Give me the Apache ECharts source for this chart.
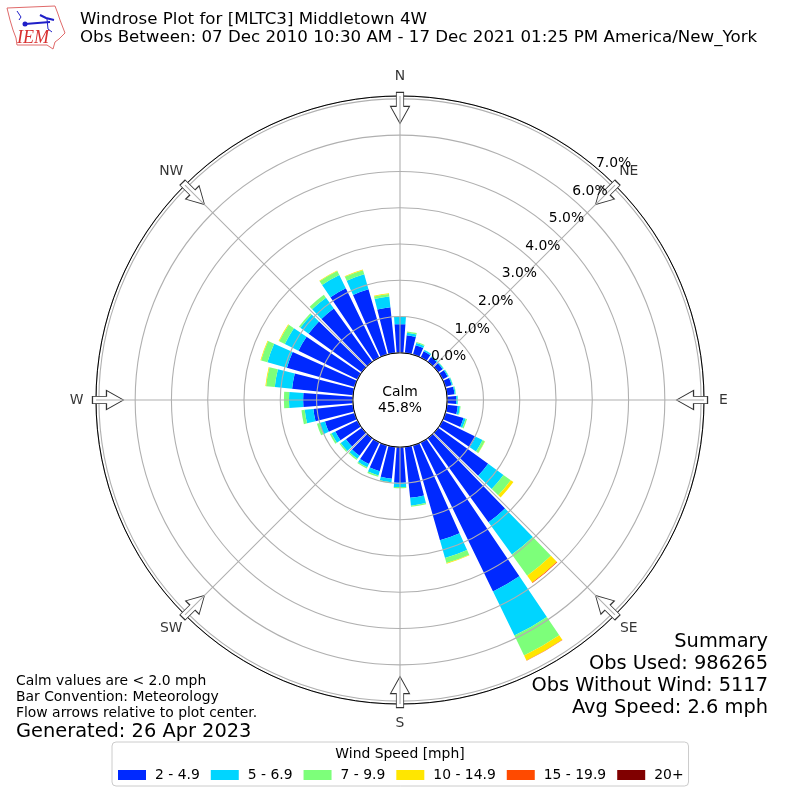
<!DOCTYPE html>
<html>
<head>
<meta charset="utf-8">
<script src="https://cdn.jsdelivr.net/npm/echarts@6/dist/echarts.min.js"></script>
<style>html,body{margin:0;padding:0;background:#fff}#chart{width:800px;height:800px}</style>
</head>
<body>
<div id="chart"></div>
<script>
// direction bins, degrees from north
var directions = [0,10,20,30,40,50,60,70,80,90,100,110,120,130,140,150,160,170,180,190,200,210,220,230,240,250,260,270,280,290,300,310,320,330,340,350];
var speedBins = ['2 - 4.9','5 - 6.9','7 - 9.9','10 - 14.9','15 - 19.9','20+'];
var binColors = ['#0029ff','#00d5ff','#7dff7a','#ffe600','#ff4a00','#800000'];

// percent of obs in each bin
var speed2 = [.79,.49,.27,.19,.16,.15,.16,.18,.21,.25,.30,.52,1.02,1.70,2.86,4.57,2.72,1.41,.98,.88,.74,.66,.60,.54,.68,.85,1.10,1.37,1.69,1.94,1.81,1.81,1.81,2.12,1.87,1.27];
var speed5 = [.20,.07,.06,.04,.03,.03,.03,.03,.03,.04,.06,.06,.21,.52,1.10,1.35,.51,.22,.12,.10,.12,.10,.10,.18,.12,.16,.24,.39,.48,.56,.42,.28,.37,.41,.43,.30];
var speed7 = [.02,.04,.03,.01,.01,.01,.01,.01,.01,.01,.02,.04,.07,.25,.72,.61,.14,.03,.03,.02,.04,.04,.04,.04,.05,.07,.09,.14,.24,.18,.17,.05,.10,.12,.12,.07];
var speed10 = [0,0,0,0,0,0,0,0,0,0,0,0,.01,.09,.23,.15,.02,0,0,0,0,0,0,0,0,0,0,0,.02,.02,.02,0,0,.02,.02,.02];
var speed15 = [0,0,0,0,0,0,0,0,0,0,0,0,0,0,.02,.01,0,0,0,0,0,0,0,0,0,0,0,0,0,0,0,0,0,0,0,0];
var speed20 = [0,0,0,0,0,0,0,0,0,0,0,0,0,0,0,0,0,0,0,0,0,0,0,0,0,0,0,0,0,0,0,0,0,0,0,0];
var binValues = [speed2,speed5,speed7,speed10,speed15,speed20];

var compass = ['N','NE','E','SE','S','SW','W','NW'];
var compassAngles = [0,45,90,135,180,225,270,315];

var titleLines = 'Windrose Plot for [MLTC3] Middletown 4W\nObs Between: 07 Dec 2010 10:30 AM - 17 Dec 2021 01:25 PM America/New_York';
var calmText = 'Calm\n45.8%';
var noteLines = 'Calm values are < 2.0 mph\nBar Convention: Meteorology\nFlow arrows relative to plot center.';
var generated = 'Generated: 26 Apr 2023';
var summaryLines = 'Summary\nObs Used: 986265\nObs Without Wind: 5117\nAvg Speed: 2.6 mph';

var FONT = '"DejaVu Sans"';
var rMax = 7.08;
var ringR = [47.2,304];
var arrowPath = 'path://M-3.5,0 L3.5,0 L3.5,14 L9,14 L0,31 L-9,14 L-3.5,14 Z';

var series = [];
for(var i=0;i<speedBins.length;i++){
	series.push({
		name:speedBins[i],
		type:'bar',
		coordinateSystem:'polar',
		polarIndex:0,
		stack:'wind',
		barWidth:'82%',
		itemStyle:{color:binColors[i]},
		data:binValues[i]
	});
}
// flow arrows, sit on the spoke polar
series.push({
	type:'scatter',
	coordinateSystem:'polar',
	polarIndex:2,
	silent:true,
	z:5,
	symbol:arrowPath,
	symbolSize:[19,31],
	itemStyle:{color:'#fff',borderColor:'#333',borderWidth:1,opacity:1},
	data:compassAngles.map(function(a){
		return {value:[6.75,a],symbolRotate:-a};
	})
});
// compass names, axis labels can't be centred on their point
series.push({
	type:'scatter',
	coordinateSystem:'polar',
	polarIndex:4,
	silent:true,
	z:8,
	symbolSize:1,
	itemStyle:{color:'transparent'},
	label:{show:true,position:'inside',fontFamily:FONT,fontSize:13.9,color:'#000',formatter:'{b}'},
	data:compassAngles.map(function(a,i){
		return {name:compass[i],value:[1,a]};
	})
});

function txt(x,y,text,size,align,lh){
	return {type:'text',x:x,y:y,z:10,style:{text:text,font:size+'px '+FONT,fill:'#000',textAlign:align,textVerticalAlign:'top',lineHeight:lh}};
}

var logoRed = '#e06a6a', logoBlue = '#1f1fc8';
var graphic = [
	txt(80,11,titleLines,16.67,'left',18),
	txt(400,384,calmText,13.9,'center',16),
	txt(16,673,noteLines,13.9,'left',16),
	txt(16,721,generated,19.4,'left',22),
	txt(768,631,summaryLines,19.4,'right',22.1),
	txt(400,747,'Wind Speed [mph]',13.9,'center',15),
	// IEM logo
	{type:'polygon',z:10,shape:{points:[[7,8],[55,6],[58,14],[60,20],[65,33],[59,39],[55,42],[53,49],[47,45],[17,45],[16,38],[13,30],[10,20]]},style:{fill:'#fff',stroke:logoRed,lineWidth:1}},
	{type:'polyline',z:10,shape:{points:[[25,24],[50,22]]},style:{stroke:logoBlue,lineWidth:2,fill:null}},
	{type:'polyline',z:10,shape:{points:[[17,11],[21,17],[19,20]]},style:{stroke:logoBlue,lineWidth:1,fill:null}},
	{type:'polyline',z:10,shape:{points:[[40,15],[46,18],[54,20]]},style:{stroke:logoBlue,lineWidth:2,fill:null}},
	{type:'polyline',z:10,shape:{points:[[47,19],[48,29],[52,32]]},style:{stroke:logoBlue,lineWidth:1,fill:null}},
	{type:'circle',z:10,shape:{cx:25,cy:24,r:2.5},style:{fill:logoBlue}},
	{type:'text',x:17,y:29,z:10,style:{text:'IEM',font:'italic 18px "Liberation Serif"',fill:'#d83030',textAlign:'left',textVerticalAlign:'top'}}
];

var option = {
	animation:false,
	backgroundColor:'#fff',
	polar:[
		{center:[400,400],radius:ringR},	// bars
		{center:[400,400],radius:ringR},	// rings + black circles
		{center:[400,400],radius:ringR},	// spokes
		{center:[418,392.5],radius:ringR},	// ring labels, moved off the spoke
		{center:[400,400],radius:[0,323.5]}	// compass names
	],
	angleAxis:[
		{polarIndex:0,type:'category',data:directions,startAngle:95,show:false},
		{polarIndex:1,type:'value',min:0,max:360,startAngle:90,z:4,
			axisLine:{show:true,lineStyle:{color:'#000',width:1}},axisTick:{show:false},axisLabel:{show:false},splitLine:{show:false}},
		{polarIndex:2,type:'value',min:0,max:360,interval:45,startAngle:90,z:6,
			axisLine:{show:false},axisTick:{show:false},axisLabel:{show:false},
			splitLine:{show:true,lineStyle:{color:'#b0b0b0',width:1.1}}},
		{polarIndex:3,type:'value',min:0,max:360,startAngle:49.5,show:false},
		{polarIndex:4,type:'value',min:0,max:360,startAngle:90,show:false}
	],
	radiusAxis:[
		{polarIndex:0,min:0,max:rMax,show:false},
		{polarIndex:1,min:0,max:rMax,interval:1,z:3,axisLine:{show:false},axisTick:{show:false},axisLabel:{show:false},
			splitLine:{show:true,lineStyle:{color:'#b0b0b0',width:1.1}}},
		{polarIndex:2,min:0,max:rMax,show:false},
		{polarIndex:3,min:0,max:rMax,interval:1,z:7,axisLine:{show:false},axisTick:{show:false},splitLine:{show:false},
			axisLabel:{show:true,margin:0,align:'center',verticalAlign:'middle',showMaxLabel:false,fontFamily:FONT,fontSize:13.9,color:'#000',
				formatter:function(v){return v.toFixed(1)+'%'}}},
		{polarIndex:4,min:0,max:1,show:false}
	],
	legend:{
		data:speedBins,
		left:112,top:742,
		icon:'rect',
		itemWidth:28,itemHeight:10,itemGap:11,
		padding:[26,5,4,6],
		borderColor:'#ccc',borderWidth:1,borderRadius:4,
		textStyle:{fontFamily:FONT,fontSize:13.9,color:'#000',padding:[0,0,0,4]}
	},
	series:series,
	graphic:graphic
};

var myChart = echarts.init(document.getElementById('chart'));
myChart.setOption(option);
</script>
</body>
</html>
